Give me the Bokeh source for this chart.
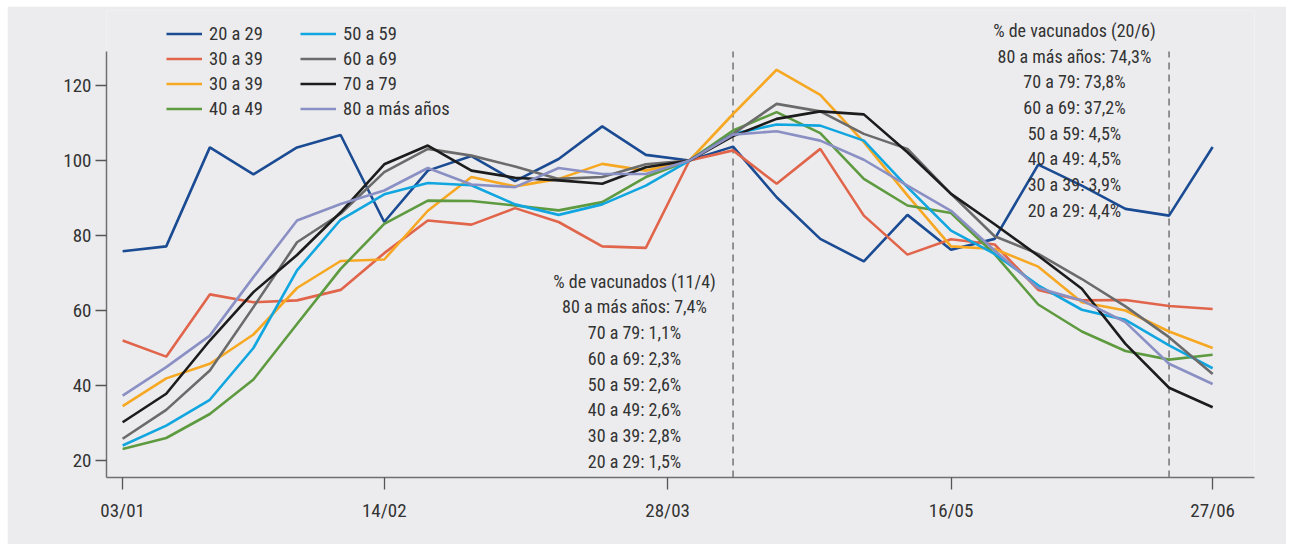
from bokeh.plotting import figure
from bokeh.models import Legend, LegendItem, Label, FixedTicker
from bokeh.embed import file_html
from bokeh.resources import INLINE

weeks = list(range(26))
tick_positions = [0, 6, 12.5, 19, 25]
tick_labels = ["03/01", "14/02", "28/03", "16/05", "27/06"]

d20_29 = [75.8, 77.1, 103.5, 96.3, 103.5, 106.8, 83.6, 97.3, 101.2, 94.5, 100.4, 109.1, 101.5,
          100, 103.7, 90.2, 79.1, 73.1, 85.5, 76.2, 79.1, 98.9, 93.3, 87.1, 85.3, 103.6]
d30_39 = [52.0, 47.7, 64.3, 62.2, 62.7, 65.5, 75.3, 84.0, 82.9, 87.3, 83.6, 77.1, 76.7,
          100, 102.7, 93.8, 103.1, 85.3, 74.9, 79.0, 77.6, 65.5, 62.7, 62.8, 61.2, 60.4]
d30_39b = [34.5, 41.9, 45.8, 53.6, 66.0, 73.2, 73.6, 86.6, 95.6, 93.1, 95.1, 99.1, 97.3,
           100, 112.4, 124.2, 117.5, 104.9, 90.7, 77.1, 76.4, 71.7, 62.2, 60.0, 54.4, 50.0]
d40_49 = [23.1, 26.0, 32.4, 41.6, 56.4, 71.1, 83.1, 89.3, 89.2, 88.0, 86.7, 88.9, 95.6,
          100, 108.0, 112.9, 107.3, 95.1, 88.0, 86.0, 75.0, 61.6, 54.4, 49.2, 46.9, 48.2]
d50_59 = [24.0, 29.3, 36.2, 50.0, 70.7, 84.2, 91.0, 94.0, 93.4, 88.3, 85.5, 88.3, 93.3,
          100, 107.1, 109.6, 109.3, 105.3, 92.9, 81.3, 75.1, 66.7, 60.2, 57.5, 50.7, 44.6]
d60_69 = [25.8, 33.5, 44.0, 60.9, 78.2, 85.8, 96.9, 103.1, 101.3, 98.4, 95.1, 95.6, 99.0,
          100, 107.1, 115.1, 113.1, 107.1, 103.1, 91.1, 79.8, 75.1, 68.4, 61.1, 52.9, 43.1]
d70_79 = [30.2, 37.8, 52.0, 64.9, 74.8, 86.2, 99.0, 104.0, 97.3, 95.4, 94.7, 93.8, 98.2,
          100, 106.5, 111.1, 113.1, 112.3, 102.2, 91.1, 83.0, 74.6, 65.8, 51.1, 39.4, 34.2]
d80 = [37.3, 44.9, 53.3, 68.9, 84.0, 88.4, 92.0, 98.0, 93.6, 92.9, 98.0, 96.4, 96.4,
       100, 106.9, 107.8, 105.3, 100.2, 93.3, 86.6, 76.0, 66.0, 62.7, 56.9, 45.8, 40.4]

series_names = ["20 a 29", "30 a 39", "30 a 39", "40 a 49",
                "50 a 59", "60 a 69", "70 a 79", "80 a más años"]
series_data = [d20_29, d30_39, d30_39b, d40_49, d50_59, d60_69, d70_79, d80]
series_colors = ["#1a4b93", "#e0654b", "#f7a823", "#5e9a3f",
                 "#11a6df", "#6b6b6b", "#1c1c1c", "#8b90c4"]

note1_lines = ["% de vacunados (11/4)", "80 a más años: 7,4%", "70 a 79: 1,1%", "60 a 69: 2,3%",
               "50 a 59: 2,6%", "40 a 49: 2,6%", "30 a 39: 2,8%", "20 a 29: 1,5%"]
note2_lines = ["% de vacunados (20/6)", "80 a más años: 74,3%", "70 a 79: 73,8%", "60 a 69: 37,2%",
               "50 a 59: 4,5%", "40 a 49: 4,5%", "30 a 39: 3,9%", "20 a 29: 4,4%"]
marker_weeks = [14, 24]

FONT = "Roboto Condensed, Liberation Sans Narrow, DejaVu Sans Condensed, sans-serif"
BG = "#ececee"
TXT = "#333333"
Y0, Y_AXIS_TOP = 15.47, 129.07

p = figure(width=1279, height=538, x_range=(-0.37, 25.96), y_range=(Y0, 140.0),
           output_backend="svg", toolbar_location=None, margin=(6, 0, 0, 7),
           min_border_left=99, min_border_right=32, min_border_top=4, min_border_bottom=67)
p.background_fill_color = BG
p.border_fill_color = BG
p.outline_line_color = None
p.grid.visible = False

for ax in (p.xaxis[0], p.yaxis[0]):
    ax.axis_line_color = "#6f6f6f"
    ax.axis_line_width = 1.5
    ax.major_tick_line_color = "#555555"
    ax.major_tick_line_width = 1.3
    ax.minor_tick_line_color = None
    ax.major_tick_in = 0
    ax.major_label_text_font = FONT
    ax.major_label_text_font_size = "19px"
    ax.major_label_text_color = TXT

p.yaxis.ticker = FixedTicker(ticks=[20, 40, 60, 80, 100, 120])
p.yaxis.bounds = (Y0, Y_AXIS_TOP)
p.yaxis.major_tick_out = 11
p.yaxis.major_label_standoff = 4
p.xaxis.ticker = FixedTicker(ticks=tick_positions)
p.xaxis.major_label_overrides = {t: l for t, l in zip(tick_positions, tick_labels)}
p.xaxis.major_tick_out = 12
p.xaxis.major_label_standoff = 9

for w in marker_weeks:
    p.segment(x0=[w], y0=[Y0], x1=[w], y1=[Y_AXIS_TOP], line_color="#555555",
              line_width=1.2, line_dash="7 5")

renderers = []
for name, data, color in zip(series_names, series_data, series_colors):
    r = p.line(weeks, data, line_color=color, line_width=2.6)
    renderers.append(r)

for idx, loc in ((0, (60, 356)), (1, (194, 356))):
    items = [LegendItem(label=series_names[i], renderers=[renderers[i]])
             for i in range(idx * 4, idx * 4 + 4)]
    lg = Legend(items=items, location=loc, orientation="vertical",
                background_fill_alpha=0, border_line_color=None,
                padding=0, margin=0, spacing=0,
                glyph_width=36, glyph_height=25, label_height=25, label_standoff=7,
                label_text_font=FONT, label_text_font_size="18.5px", label_text_color=TXT)
    p.add_layout(lg, "center")

def add_note(lines, xc, y0):
    for i, t in enumerate(lines):
        p.add_layout(Label(x=xc, y=y0 - i * 6.85, text=t, text_align="center",
                           text_baseline="middle", text_font=FONT,
                           text_font_size="18px", text_color=TXT))

add_note(note1_lines, 11.74, 67.8)
add_note(note2_lines, 21.83, 134.67)

open("out.html", "w").write(file_html(p, INLINE))
